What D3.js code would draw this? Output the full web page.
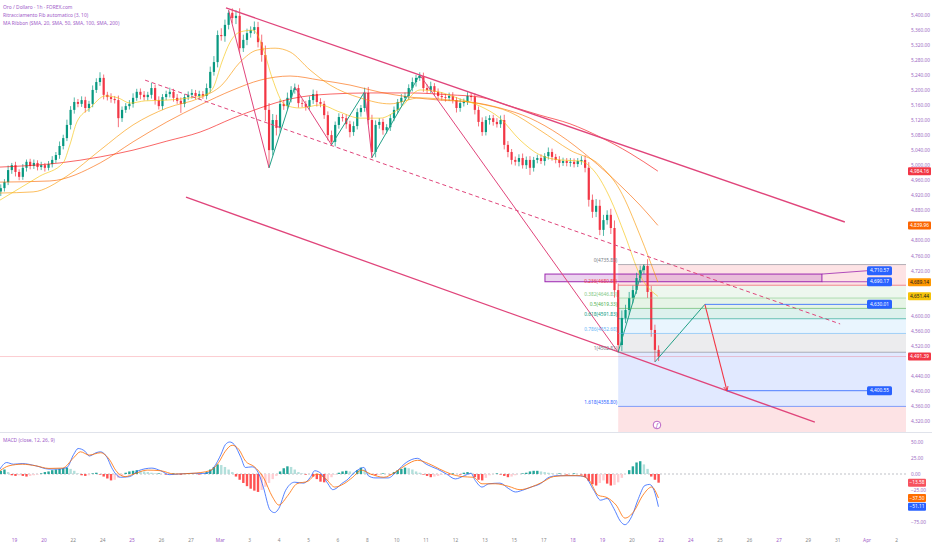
<!DOCTYPE html>
<html lang="it">
<head>
<meta charset="UTF-8">
<title>Oro / Dollaro 1h</title>
<script src="https://d3js.org/d3.v7.min.js"></script>
<style>
  body { margin: 0; background: #fff; }
  svg { display: block; }
  text { font-family: "Noto Sans", "DejaVu Sans", sans-serif; }
</style>
</head>
<body>
<svg id="chart" width="932" height="550"></svg>
<script>
// ---- time axis: one slot per labelled day ----
const dateLabels = ["19","20","22","24","25","26","27","Mar","3","4","5","6","8","10","11","12","13","15","17","18","19","20","22","24","25","26","27","29","31","Apr","2"];
const accentDates = [0, 1, 4, 7, 19, 20, 22, 23, 26, 29];

// ---- candles (8 per slot) ----
const candleStart = -0.45, candleStep = 1 / 8;
const firstOpen = 4930;
const closes = [
  4939,4955,4987,5000,4982,4969,4993,5009,4998,5006,
  4995,5000,4993,5003,5014,5027,5051,5072,5107,5147,
  5168,5163,5173,5152,5163,5200,5221,5232,5187,5181,
  5176,5173,5125,5147,5157,5163,5179,5195,5187,5181,
  5187,5205,5173,5157,5181,5189,5195,5179,5171,5163,
  5181,5187,5192,5184,5189,5184,5205,5248,5274,5346,
  5343,5373,5405,5391,5397,5311,5333,5351,5359,5367,
  5327,5293,5147,5040,5120,5099,5163,5157,5179,5200,
  5205,5165,5163,5155,5173,5189,5168,5163,5133,5080,
  5062,5107,5128,5125,5109,5088,5104,5141,5152,5192,
  5120,5035,5107,5115,5093,5101,5125,5147,5168,5179,
  5184,5205,5221,5232,5237,5205,5200,5210,5195,5184,
  5181,5179,5184,5173,5152,5165,5168,5184,5181,5147,
  5115,5088,5120,5125,5115,5109,5120,5054,5035,5014,
  5009,5019,5000,5014,4993,5014,5019,5011,5024,5035,
  5022,5014,5006,5011,5006,5009,5003,5011,5014,4993,
  4908,4876,4892,4828,4854,4868,4833,4668,4522,4594,
  4615,4647,4668,4700,4721,4732,4663,4562,4509,4491.39
];
const wickUp = [
  10,8,12,6,9,7,10,6,8,9, 7,9,6,8,10,8,12,9,14,10,
  12,8,10,9,8,12,10,15,9,8, 10,8,12,9,8,10,12,8,9,10,
  8,14,9,10,8,9,11,8,10,9, 8,9,10,8,9,8,12,14,16,12,
  18,14,7,12,15,20,14,12,10,15, 14,20,25,18,16,14,12,10,14,10,
  12,9,10,8,10,12,9,10,8,10, 12,9,10,8,10,9,12,10,8,14,
  16,14,12,10,9,8,10,9,8,10, 9,10,12,8,10,9,10,12,8,9,
  10,8,9,10,8,12,9,10,8,10, 9,12,10,8,9,10,12,14,10,8,
  9,10,12,9,10,8,9,10,8,12, 9,8,10,9,8,10,9,8,10,12,
  15,14,18,16,14,12,16,20,18,20, 14,16,12,14,12,4,18,16,14,12
];
const wickDn = [
  12,9,8,10,12,9,8,10,9,8, 9,8,10,7,9,8,10,9,8,12,
  10,9,8,12,10,9,8,10,12,9, 10,9,24,10,8,9,10,8,12,9,
  9,10,12,9,10,8,9,10,8,24, 9,8,10,9,10,8,9,12,10,14,
  12,15,12,14,16,12,10,14,12,10, 14,18,30,47,14,20,12,10,9,12,
  10,12,9,10,8,10,12,9,10,14, 8,12,10,9,12,14,10,9,12,10,
  12,16,14,10,12,9,10,8,9,10, 8,10,9,12,8,10,9,8,10,9,
  9,10,8,9,12,10,9,8,10,12, 12,10,9,12,10,9,10,12,14,12,
  10,12,9,10,19,10,9,8,12,9, 10,9,12,8,9,10,9,8,10,12,
  18,16,14,14,16,12,16,20,19,16, 14,12,14,10,12,10,16,18,32,12
];

// ---- MA Ribbon, [slot, price] ----
const sma20 = [[-0.48,4907],[0.20,4939],[0.88,4971],[1.67,5006],[1.90,5054],[2.14,5115],[2.59,5152],[3.10,5184],[3.54,5179],[3.95,5165],[4.46,5171],[5.20,5173],[5.99,5179],[6.50,5187],[6.77,5205],[7.07,5274],[7.35,5327],[7.69,5354],[8.13,5359],[8.47,5311],[8.78,5232],[9.22,5160],[9.73,5152],[10.41,5160],[11.09,5141],[11.77,5125],[12.45,5125],[13.13,5152],[13.81,5200],[14.49,5194],[15.17,5176],[15.85,5157],[16.53,5125],[17.21,5067],[17.89,5027],[18.57,5014],[19.25,5011],[19.76,4982],[20.27,4913],[20.78,4814],[21.29,4708],[21.90,4651.44]];
const sma50 = [[-0.48,4926],[0.65,4929],[1.80,4971],[2.93,5040],[4.05,5107],[5.20,5152],[6.33,5179],[7.07,5213],[7.69,5274],[8.27,5306],[8.88,5311],[9.39,5301],[10.07,5253],[10.75,5213],[11.77,5179],[12.79,5163],[13.81,5179],[14.83,5173],[15.85,5163],[16.87,5141],[17.89,5093],[18.91,5040],[19.93,5000],[20.61,4934],[21.29,4814],[21.90,4689.14]];
const sma100 = [[-0.48,4955],[1.22,4958],[2.93,5006],[4.05,5062],[5.20,5115],[6.33,5160],[7.45,5200],[8.37,5226],[9.39,5237],[10.41,5226],[11.43,5213],[12.45,5194],[13.47,5181],[14.49,5173],[15.51,5168],[16.53,5152],[17.55,5125],[18.57,5080],[19.59,5019],[20.61,4947],[21.29,4894],[21.90,4839.96]];
const sma200 = [[-0.48,4995],[1.56,5006],[2.93,5022],[4.05,5040],[5.20,5064],[6.33,5088],[7.45,5125],[8.37,5152],[9.39,5176],[10.75,5189],[12.11,5192],[13.47,5192],[14.83,5187],[15.85,5181],[16.87,5157],[17.89,5133],[18.91,5110],[19.93,5075],[20.95,5032],[21.90,4984.16]];

// ---- MACD (close, 12, 26, 9), [slot, value] ----
const macdLine = [[-0.48,7.7],[-0.25,17.9],[-0.02,15.3],[0.28,16.3],[0.74,12.8],[1.19,7.7],[1.50,7.7],[1.80,10.2],[2.03,30.6],[2.18,39.8],[2.41,35.7],[2.56,28.1],[2.79,33.2],[2.94,34.7],[3.17,25.5],[3.32,10.2],[3.62,-5.1],[3.93,-4.1],[4.23,5.1],[4.69,9.2],[4.99,5.1],[5.29,-1.0],[5.60,0],[6.05,1.0],[6.51,1.0],[6.81,11.2],[7.04,30.6],[7.19,46.0],[7.34,50.0],[7.49,46.0],[7.72,25.5],[7.87,10.2],[8.10,11.2],[8.33,0],[8.48,-20.4],[8.71,-56.2],[8.86,-60.3],[9.01,-53.6],[9.24,-25.5],[9.55,-12.8],[9.85,-14.3],[10.08,-5.1],[10.23,5.1],[10.46,0],[10.68,-15.3],[10.84,-24.5],[10.99,-21.5],[11.14,-15.3],[11.37,-7.7],[11.52,0],[11.75,7.7],[11.90,10.2],[12.05,-2.6],[12.28,-6.1],[12.73,-6.1],[13.04,5.1],[13.34,17.9],[13.72,24.5],[14.02,15.3],[14.40,7.7],[14.71,0],[15.01,-7.7],[15.32,-2.6],[15.54,1.0],[15.69,-10.2],[15.92,-20.4],[16.15,-15.3],[16.53,-14.3],[16.83,-23.0],[17.06,-28.1],[17.29,-25.5],[17.59,-20.4],[17.90,-15.3],[18.20,-5.1],[18.50,-2.6],[18.81,-2.6],[19.11,-2.6],[19.41,-4.1],[19.72,-25.5],[19.95,-40.9],[20.17,-38.3],[20.40,-53.6],[20.63,-74.1],[20.78,-79.2],[21.01,-66.4],[21.24,-38.3],[21.46,-17.9],[21.62,-16.3],[21.77,-25.5],[21.92,-51.11]];
const signalLine = [[-0.48,5.1],[-0.17,12.8],[0.28,15.3],[0.74,12.8],[1.19,8.7],[1.65,9.2],[2.03,25.5],[2.26,34.7],[2.56,29.6],[2.94,33.2],[3.24,23.0],[3.47,5.1],[3.78,-4.1],[4.08,0],[4.53,6.1],[4.99,5.1],[5.45,0],[6.05,1.0],[6.66,5.1],[6.96,17.9],[7.19,35.7],[7.42,44.9],[7.65,38.3],[7.87,20.4],[8.18,11.2],[8.48,-5.1],[8.79,-35.7],[9.01,-48.5],[9.32,-33.2],[9.62,-15.3],[10.00,-11.2],[10.30,0],[10.61,-7.7],[10.91,-20.4],[11.22,-15.3],[11.52,-5.1],[11.82,6.1],[12.13,0],[12.58,-5.1],[12.96,2.6],[13.34,14.3],[13.72,21.4],[14.10,16.3],[14.48,7.7],[14.86,0],[15.24,-4.1],[15.62,-5.1],[15.92,-15.3],[16.38,-15.3],[16.83,-19.4],[17.21,-24.5],[17.59,-20.4],[17.97,-12.8],[18.35,-4.1],[18.81,-2.6],[19.26,-2.6],[19.57,-10.2],[19.87,-33.2],[20.17,-36.8],[20.48,-48.5],[20.78,-68.9],[21.08,-58.7],[21.39,-33.2],[21.69,-20.4],[21.92,-37.50]];
// histogram, one bar per candle
const macdHist = [
  5,7,3,
  -2,-3,-2,-3,-4,-3,-2,-1,1,
  3,4,6,7,8,9,10,8,5,
  1,-2,-3,-2,1,2,-1,
  -4,-7,-10,-9,-6,-3,
  2,4,5,6,5,4,3,2,1,1,
  0,-1,0,1,0,-1,0,1,1,0,-1,0,
  3,7,11,15,14,11,7,3,
  -4,-9,-14,-19,-23,-26,-28,-25,-20,
  -14,-8,-3,
  4,9,12,11,7,3,
  1,-1,0,
  -4,-8,-12,-13,-10,-5,-1,
  2,4,5,4,2,
  6,10,7,
  2,-1,-2,-1,1,0,-1,
  3,6,8,10,9,7,4,2,
  -1,-3,-5,-4,-3,-1,
  0,-1,1,0,-1,
  2,3,2,
  -5,-9,-10,-6,
  -2,0,1,-1,
  -3,-5,-4,-2,
  0,1,
  2,4,5,5,4,3,2,1,
  0,1,0,-1,0,1,0,-1,
  -5,-11,-16,-18,-14,
  -10,-15,-18,-17,-13,-6,
  0,
  6,12,18,20,15,8,
  -4,-9,-13.58
];

// ---- drawings, [slot, price] ----
const upperTrend = [[7.21,5418],[28.26,4849]];
const lowerTrend = [[5.85,4915],[27.24,4317]];
const midDashed = [[4.46,5226],[28.10,4578]];
const zigzag = [[7.30,5412],[8.675,4993],[9.55,5208],[10.80,5054],[11.925,5195],[12.175,5020],[13.80,5240],[20.55,4502.81],[21.425,4735.85]];
const projection = [[21.80,4477],[23.50,4630.01],[24.25,4400.55]];
const boxZone = {t0: 18.06, t1: 27.48, top: 4710.57, bottom: 4690.17};

// ---- Fibonacci auto retracement ----
const fibStart = 20.55;
const fibRatios = [0, 0.236, 0.382, 0.5, 0.618, 0.786, 1, 1.618, 2.618];
const fibPrices = [4735.85, 4680.85, 4646.83, 4619.33, 4591.83, 4552.68, 4502.81, 4358.80, 4125.76];
const fibColors = ["#787b86", "#f23645", "#81c784", "#4caf50", "#089981", "#64b5f6", "#787b86", "#2962ff", "#f23645"];

// ---- price tags ----
const drawTags = [4710.57, 4690.17, 4630.01, 4400.55];
const lastPrice = 4491.39;
const axisTags = [
  {p: 4984.16, bg: "#f23645", fg: "#fff"},
  {p: 4839.96, bg: "#fb6500", fg: "#fff"},
  {p: 4689.14, bg: "#ff9800", fg: "#131722"},
  {p: 4651.44, bg: "#f6c309", fg: "#131722"},
  {p: 4491.39, bg: "#f23645", fg: "#fff"}
];
const macdTags = [
  {v: -13.58, bg: "#f7525f"},
  {v: -37.50, bg: "#ff6d00"},
  {v: -51.11, bg: "#2962ff"}
];
const legendLines = ["Oro / Dollaro · 1h · FOREX.com", "Ritracciamento Fib automatico (3, 10)", "MA Ribbon (SMA, 20, SMA, 50, SMA, 100, SMA, 200)"];

// ---------------------------------------------------------------
const plotRight = 906;
const txt = "#9d6bc4";
const fmt = d3.format(",.2f");

const x = d3.scaleLinear().domain([0, 30]).range([14, 896]);
const y = d3.scaleLinear().domain([4320, 5400]).range([421, 14.7]);
const ym = d3.scaleLinear().domain([-75, 50]).range([522, 442]);

const svg = d3.select("#chart");
const defs = svg.append("defs");
defs.append("clipPath").attr("id", "mainClip").append("rect")
    .attr("x", 0).attr("y", 0).attr("width", plotRight).attr("height", 432);
defs.append("clipPath").attr("id", "macdClip").append("rect")
    .attr("x", 0).attr("y", 433).attr("width", plotRight).attr("height", 97);
defs.append("marker")
    .attr("id", "arrowRed")
    .attr("viewBox", "0 0 10 10")
    .attr("refX", 8).attr("refY", 5)
    .attr("markerWidth", 5).attr("markerHeight", 5)
    .attr("orient", "auto")
    .append("path").attr("d", "M 0 1 L 9 5 L 0 9").attr("fill", "none")
    .attr("stroke", "#f23645").attr("stroke-width", 1.6);

const main = svg.append("g").attr("clip-path", "url(#mainClip)");

// fib bands
const fx0 = x(fibStart);
for (let k = 0; k < fibPrices.length - 1; k++) {
    main.append("rect")
        .attr("x", fx0).attr("width", plotRight - fx0)
        .attr("y", y(fibPrices[k])).attr("height", y(fibPrices[k + 1]) - y(fibPrices[k]))
        .attr("fill", fibColors[k + 1]).attr("fill-opacity", 0.14);
}

// last price line
main.append("line")
    .attr("x1", 0).attr("x2", plotRight)
    .attr("y1", y(lastPrice)).attr("y2", y(lastPrice))
    .attr("stroke", "#f23645").attr("stroke-opacity", 0.35).attr("stroke-width", 0.7);

// purple zone
main.append("rect")
    .attr("x", x(boxZone.t0)).attr("width", x(boxZone.t1) - x(boxZone.t0))
    .attr("y", y(boxZone.top)).attr("height", y(boxZone.bottom) - y(boxZone.top))
    .attr("fill", "#9c27b0").attr("fill-opacity", 0.2)
    .attr("stroke", "#9c27b0").attr("stroke-width", 1);

// candles
const candles = closes.map((c, i) => {
    const o = i ? closes[i - 1] : firstOpen;
    return {t: candleStart + i * candleStep, o, c,
            h: Math.max(o, c) + wickUp[i], l: Math.min(o, c) - wickDn[i]};
});
const cg = main.append("g");
cg.selectAll("line").data(candles).join("line")
    .attr("x1", d => x(d.t)).attr("x2", d => x(d.t))
    .attr("y1", d => y(d.h)).attr("y2", d => y(d.l))
    .attr("stroke", d => d.c >= d.o ? "#089981" : "#f23645")
    .attr("stroke-width", 0.7);
cg.selectAll("rect").data(candles).join("rect")
    .attr("x", d => x(d.t) - 1.1).attr("width", 2.2)
    .attr("y", d => y(Math.max(d.o, d.c)))
    .attr("height", d => Math.max(0.7, Math.abs(y(d.o) - y(d.c))))
    .attr("fill", d => d.c >= d.o ? "#089981" : "#f23645");

// MA ribbon
const pline = d3.line().x(d => x(d[0])).y(d => y(d[1])).curve(d3.curveMonotoneX);
[[sma200, "#f60c0c"], [sma100, "#fb6500"], [sma50, "#fb9800"], [sma20, "#f6c309"]].forEach(([s, col]) => {
    main.append("path").attr("d", pline(s))
        .attr("fill", "none").attr("stroke", col)
        .attr("stroke-opacity", 0.7).attr("stroke-width", 0.9);
});

// trend lines
const straight = d3.line().x(d => x(d[0])).y(d => y(d[1]));
main.append("path").attr("d", straight(upperTrend))
    .attr("stroke", "#e0457b").attr("stroke-width", 1.4).attr("fill", "none");
main.append("path").attr("d", straight(lowerTrend))
    .attr("stroke", "#e0457b").attr("stroke-width", 1.3).attr("fill", "none");
main.append("path").attr("d", straight(midDashed))
    .attr("stroke", "#e0457b").attr("stroke-width", 1).attr("stroke-dasharray", "4,3").attr("fill", "none");

// zigzag legs
for (let k = 0; k < zigzag.length - 1; k++) {
    const up = zigzag[k + 1][1] > zigzag[k][1];
    main.append("path").attr("d", straight([zigzag[k], zigzag[k + 1]]))
        .attr("stroke", up ? "#22a087" : "#e0457b")
        .attr("stroke-width", 1).attr("fill", "none");
}

// projection
main.append("path").attr("d", straight(projection.slice(0, 2)))
    .attr("stroke", "#22a087").attr("stroke-width", 1).attr("fill", "none");
main.append("path").attr("d", straight(projection.slice(1)))
    .attr("stroke", "#f23645").attr("stroke-width", 1.1).attr("fill", "none")
    .attr("marker-end", "url(#arrowRed)");

// fib level lines and labels
fibPrices.forEach((p, k) => {
    main.append("line")
        .attr("x1", fx0).attr("x2", plotRight)
        .attr("y1", y(p)).attr("y2", y(p))
        .attr("stroke", fibColors[k]).attr("stroke-opacity", 0.8).attr("stroke-width", 0.7);
    main.append("text")
        .attr("x", fx0 - 1).attr("y", y(p) - 2.5)
        .attr("text-anchor", "end").attr("font-size", 4.8)
        .attr("fill", fibColors[k])
        .text(`${fibRatios[k]}(${p.toFixed(2)})`);
});

// drawing price tags (blue), pushed apart when they overlap
const tagX = 867, tagW = 25, tagH = 9;
const tags = drawTags.map(p => ({p, yy: y(p)})).sort((a, b) => a.yy - b.yy);
for (let k = tags.length - 2; k >= 0; k--) {
    if (tags[k + 1].yy - tags[k].yy < 11) tags[k].yy = tags[k + 1].yy - 11;
}
const tagPos = new Map(tags.map(t => [t.p, t.yy]));
const connectors = [
    [x(boxZone.t1), boxZone.top],
    [x(boxZone.t1), boxZone.bottom],
    [x(projection[1][0]), projection[1][1]],
    [x(projection[2][0]), projection[2][1]]
];
connectors.forEach(([x0, p]) => {
    const col = (p === boxZone.top || p === boxZone.bottom) ? "#9c27b0" : "#2962ff";
    main.append("line")
        .attr("x1", x0).attr("y1", y(p))
        .attr("x2", tagX).attr("y2", tagPos.get(p))
        .attr("stroke", col).attr("stroke-width", 0.8);
});
tags.forEach(t => {
    main.append("rect")
        .attr("x", tagX).attr("y", t.yy - tagH / 2)
        .attr("width", tagW).attr("height", tagH).attr("rx", 1.5)
        .attr("fill", "#2962ff");
    main.append("text")
        .attr("x", tagX + tagW / 2).attr("y", t.yy)
        .attr("dy", "0.35em").attr("text-anchor", "middle")
        .attr("font-size", 4.8).attr("fill", "#fff")
        .text(fmt(t.p));
});

// event marker
const fx = x(21.87);
main.append("circle").attr("cx", fx).attr("cy", 425).attr("r", 3.8)
    .attr("fill", "#fff").attr("stroke", "#9c27b0").attr("stroke-width", 0.7);
main.append("text").attr("x", fx).attr("y", 425).attr("dy", "0.35em")
    .attr("text-anchor", "middle").attr("font-size", 5).attr("font-style", "italic")
    .attr("fill", "#9c27b0").text("f");

// legend
legendLines.forEach((s, k) => {
    svg.append("text").attr("x", 3).attr("y", 8.5 + k * 8.4)
        .attr("font-size", 4.9).attr("fill", "#a15cc9").text(s);
});

// pane separator
svg.append("line").attr("x1", 0).attr("x2", 932).attr("y1", 432.5).attr("y2", 432.5)
    .attr("stroke", "#e0e3eb").attr("stroke-width", 1);

// ---- MACD pane ----
const mg = svg.append("g").attr("clip-path", "url(#macdClip)");
mg.append("line").attr("x1", 0).attr("x2", plotRight)
    .attr("y1", ym(0)).attr("y2", ym(0))
    .attr("stroke", "#9598a1").attr("stroke-width", 0.6).attr("stroke-dasharray", "2,2");
mg.selectAll("rect").data(macdHist).join("rect")
    .attr("x", (v, i) => x(candleStart + i * candleStep) - 1.2)
    .attr("width", 2.4)
    .attr("y", v => Math.min(ym(v), ym(0)))
    .attr("height", v => Math.abs(ym(v) - ym(0)))
    .attr("fill", (v, i) => {
        const prev = i ? macdHist[i - 1] : 0;
        if (v >= 0) return v >= prev ? "#26a69a" : "#b2dfdb";
        return v <= prev ? "#ff5252" : "#ffcdd2";
    });
const mline = d3.line().x(d => x(d[0])).y(d => ym(d[1])).curve(d3.curveMonotoneX);
mg.append("path").attr("d", mline(macdLine))
    .attr("fill", "none").attr("stroke", "#2962ff").attr("stroke-width", 0.8);
mg.append("path").attr("d", mline(signalLine))
    .attr("fill", "none").attr("stroke", "#ff6d00").attr("stroke-width", 0.8);
svg.append("text").attr("x", 3).attr("y", 442)
    .attr("font-size", 4.9).attr("fill", "#a15cc9").text("MACD (close, 12, 26, 9)");

// ---- axes ----
function styleAxis(g, hideNear, scale) {
    g.select(".domain").remove();
    g.selectAll(".tick line").remove();
    g.selectAll(".tick text")
        .attr("font-size", 4.8).attr("fill", txt)
        .attr("font-family", "Noto Sans, DejaVu Sans, sans-serif");
    if (hideNear) {
        g.selectAll(".tick").filter(v => hideNear.some(h => Math.abs(scale(v) - h) < 5.5)).remove();
    }
}

const priceAxis = svg.append("g").attr("transform", `translate(${plotRight},0)`)
    .call(d3.axisRight(y).tickValues(d3.range(4320, 5401, 40)).tickFormat(fmt).tickSize(0).tickPadding(5));
styleAxis(priceAxis, axisTags.map(t => y(t.p)), y);

axisTags.forEach(t => {
    svg.append("rect").attr("x", 908).attr("y", y(t.p) - 4)
        .attr("width", 23).attr("height", 8).attr("rx", 1).attr("fill", t.bg);
    svg.append("text").attr("x", 919.5).attr("y", y(t.p)).attr("dy", "0.35em")
        .attr("text-anchor", "middle").attr("font-size", 4.8).attr("fill", t.fg)
        .text(fmt(t.p));
});

const macdAxis = svg.append("g").attr("transform", `translate(${plotRight},0)`)
    .call(d3.axisRight(ym).tickValues([50, 25, 0, -25, -50, -75]).tickFormat(fmt).tickSize(0).tickPadding(5));
styleAxis(macdAxis, macdTags.map(t => ym(t.v)), ym);

macdTags.forEach(t => {
    svg.append("rect").attr("x", 908).attr("y", ym(t.v) - 4)
        .attr("width", 18).attr("height", 8).attr("rx", 1).attr("fill", t.bg);
    svg.append("text").attr("x", 917).attr("y", ym(t.v)).attr("dy", "0.35em")
        .attr("text-anchor", "middle").attr("font-size", 4.8).attr("fill", "#fff")
        .text(fmt(t.v));
});

const timeAxis = svg.append("g").attr("transform", "translate(0,538.5)")
    .call(d3.axisBottom(x).tickValues(d3.range(dateLabels.length))
        .tickFormat(i => dateLabels[i]).tickSize(0).tickPadding(0));
styleAxis(timeAxis);
timeAxis.selectAll(".tick text")
    .attr("fill", i => accentDates.includes(i) ? "#a15cc9" : "#888");
</script>
</body>
</html>
